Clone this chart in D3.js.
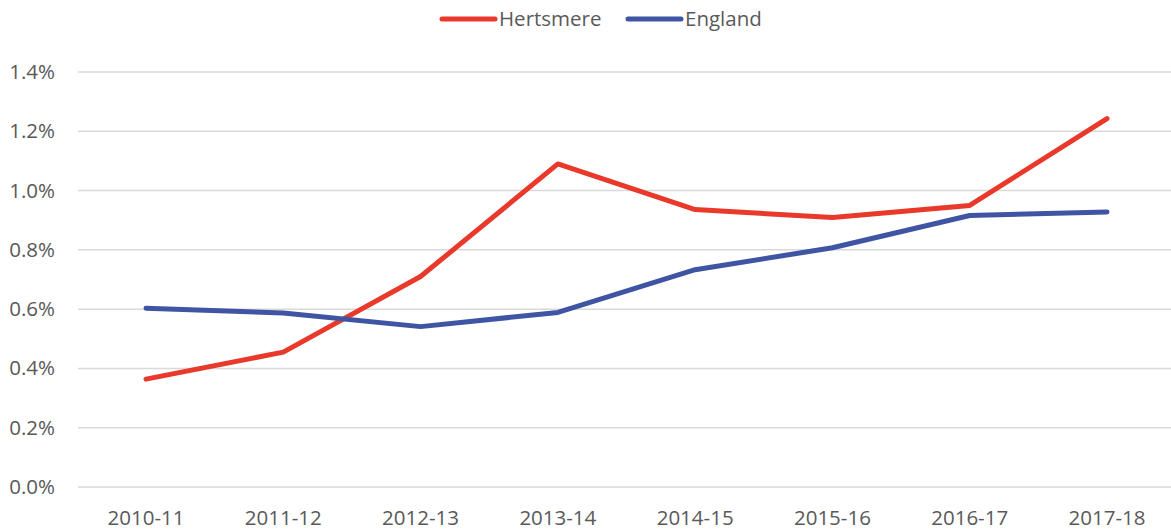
<!DOCTYPE html>
<meta charset="utf-8">
<style>
body { margin: 0; background: #fff; }
text { font-family: "Open Sans", "Liberation Sans", sans-serif; font-size: 20.5px; fill: #595959; }
</style>
<svg width="1171" height="532"></svg>
<script src="https://cdn.jsdelivr.net/npm/d3@7"></script>
<script>
var years = ["2010-11", "2011-12", "2012-13", "2013-14", "2014-15", "2015-16", "2016-17", "2017-18"];
var hertsmere = [0.364, 0.455, 0.71, 1.09, 0.936, 0.909, 0.95, 1.243];
var england = [0.603, 0.587, 0.541, 0.589, 0.733, 0.807, 0.916, 0.928];
var yTicks = [0, 0.2, 0.4, 0.6, 0.8, 1.0, 1.2, 1.4];

var series = [
  {name: "Hertsmere", values: hertsmere, color: "#e8392b"},
  {name: "England", values: england, color: "#3f55a3"}
];

var svg = d3.select("svg");
var x = d3.scalePoint().domain(years).range([146, 1107]);
var y = d3.scaleLinear().domain([0, 1.4]).range([487, 72]);

// gridlines
svg.append("g").selectAll("line")
  .data(yTicks)
  .enter().append("line")
    .attr("x1", 78).attr("x2", 1171)
    .attr("y1", function(d) { return y(d); })
    .attr("y2", function(d) { return y(d); })
    .attr("stroke", "#d9d9d9").attr("stroke-width", 1.5);

// y labels
svg.append("g").selectAll("text")
  .data(yTicks)
  .enter().append("text")
    .attr("x", 55).attr("y", function(d) { return y(d) + 7; })
    .attr("text-anchor", "end")
    .text(function(d) { return d.toFixed(1) + "%"; });

// x labels
svg.append("g").selectAll("text")
  .data(years)
  .enter().append("text")
    .attr("x", function(d) { return x(d); })
    .attr("y", 525)
    .attr("text-anchor", "middle")
    .text(function(d) { return d; });

var line = d3.line()
  .x(function(d, i) { return x(years[i]); })
  .y(function(d) { return y(d); });

svg.append("g").selectAll("path")
  .data(series)
  .enter().append("path")
    .attr("d", function(d) { return line(d.values); })
    .attr("fill", "none")
    .attr("stroke", function(d) { return d.color; })
    .attr("stroke-width", 5)
    .attr("stroke-linejoin", "round")
    .attr("stroke-linecap", "round");

// legend
var legendX = [442, 628];
var lg = svg.append("g").selectAll("g")
  .data(series)
  .enter().append("g")
    .attr("transform", function(d, i) { return "translate(" + legendX[i] + ",19)"; });
lg.append("line")
  .attr("x1", 0).attr("x2", 53).attr("y1", 0).attr("y2", 0)
  .attr("stroke", function(d) { return d.color; })
  .attr("stroke-width", 5).attr("stroke-linecap", "round");
lg.append("text")
  .attr("x", 57).attr("y", 7)
  .text(function(d) { return d.name; });
</script>
